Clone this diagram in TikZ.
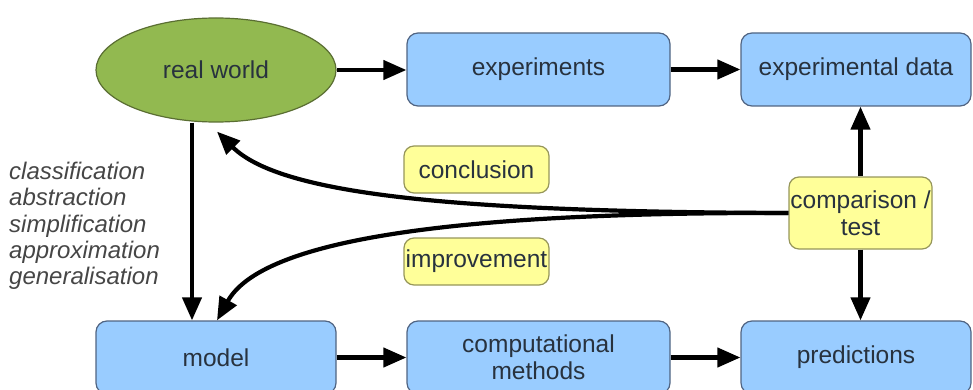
\documentclass[tikz,border=0pt]{standalone}
\usepackage{fontspec}
\setmainfont{Liberation Sans}
\usetikzlibrary{shapes.geometric,arrows.meta}
\definecolor{boxblue}{RGB}{153,204,255}
\definecolor{boxblueline}{RGB}{80,100,130}
\definecolor{rwgreen}{RGB}{146,185,80}
\definecolor{rwline}{RGB}{90,110,50}
\definecolor{boxyellow}{RGB}{255,255,153}
\definecolor{yellowline}{RGB}{150,150,90}
\definecolor{txt}{RGB}{40,50,62}
\definecolor{sidetxt}{RGB}{70,70,70}
\tikzset{
  base/.style={font=\fontsize{24.5}{27}\selectfont, text=txt, align=center, line width=1.2pt, inner sep=0pt},
  bluebox/.style={base, draw=boxblueline, fill=boxblue, rounded corners=11pt, rectangle},
  yellowbox/.style={base, draw=yellowline, fill=boxyellow, rounded corners=10pt, rectangle},
  greenell/.style={base, draw=rwline, fill=rwgreen, ellipse},
  arr/.style={line width=4.2pt, -{Triangle[length=23pt,width=19pt]}},
}
\begin{document}
\begin{tikzpicture}[x=1pt,y=-1pt]
\useasboundingbox (0,0) rectangle (973,390);
% nodes
\node[greenell, minimum width=240pt, minimum height=104pt] (rw) at (216,70) {real world};
\node[bluebox, minimum width=263pt, minimum height=73pt] (exp) at (538.5,69.5) {experiments};
\node[bluebox, minimum width=230pt, minimum height=73pt] (dat) at (856,69.5) {experimental data};
\node[bluebox, minimum width=240pt, minimum height=73pt] (mod) at (216,357.5) {model};
\node[bluebox, minimum width=263pt, minimum height=73pt] (comp) at (538.5,357.5) {computational\\methods};
\node[bluebox, minimum width=230pt, minimum height=73pt] (pred) at (856,357.5) {predictions};
\node[yellowbox, minimum width=145pt, minimum height=47pt] (conc) at (476.5,169.5) {conclusion};
\node[yellowbox, minimum width=145pt, minimum height=47pt] (imp) at (476.5,261.5) {improvement};
\node[yellowbox, minimum width=143pt, minimum height=72pt] (cmp) at (860.5,213) {comparison /\\test};
\node[anchor=north west, align=left, inner sep=0pt, text=sidetxt,
      font=\fontsize{24}{26.3}\selectfont\itshape] (side) at (9,162)
  {classification\\abstraction\\simplification\\approximation\\generalisation};
% straight connectors
\draw[arr] (rw.east) -- (rw.east -| exp.west);
\draw[arr] (exp.east) -- (exp.east -| dat.west);
\draw[arr] (mod.east) -- (mod.east -| comp.west);
\draw[arr] (comp.east) -- (comp.east -| pred.west);
\draw[arr] ([xshift=-24pt]rw.south) -- ([xshift=-24pt]mod.north);
\draw[arr] (cmp.north) -- (cmp.north |- dat.south);
\draw[arr] (cmp.south) -- (cmp.south |- pred.north);
% curved connectors
\draw[arr] (cmp.west) .. controls (450,212) and (280,194) .. ([shift={(1,9)}]rw.south);
\draw[arr] (cmp.west) .. controls (450,212) and (262,240) .. ([xshift=1pt]mod.north);
\end{tikzpicture}
\end{document}
